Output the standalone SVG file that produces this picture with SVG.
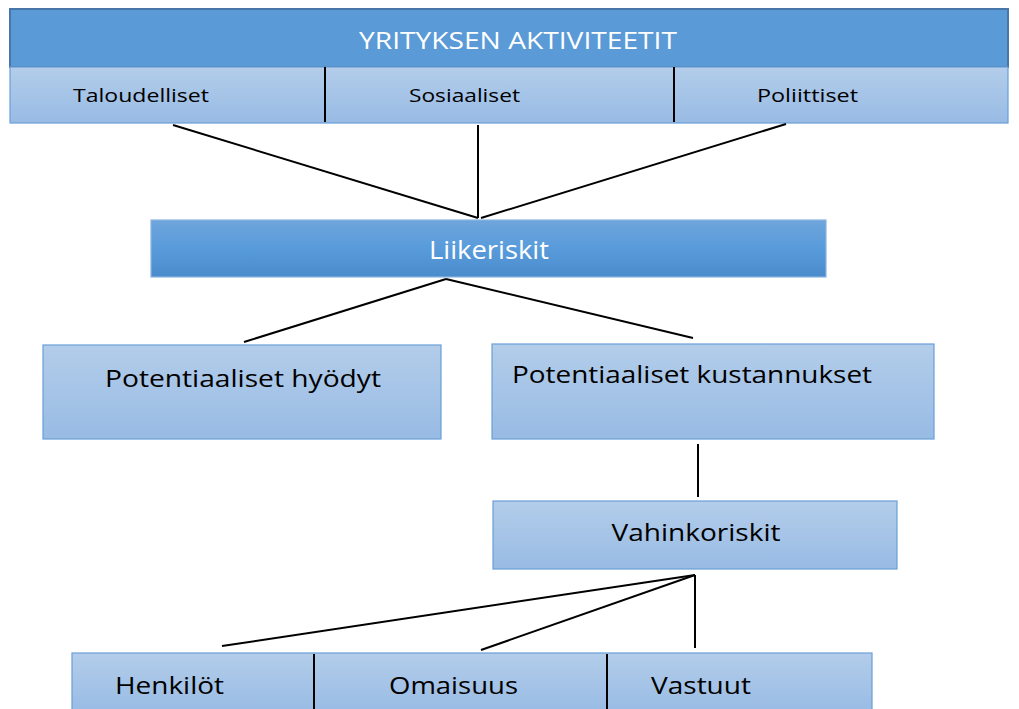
<svg xmlns="http://www.w3.org/2000/svg" width="1019" height="709" viewBox="0 0 1019 709">
<defs>
<linearGradient id="light" x1="0" y1="0" x2="0" y2="1">
<stop offset="0" stop-color="#b3cdea"/>
<stop offset="1" stop-color="#98bbe4"/>
</linearGradient>
<linearGradient id="dark" x1="0" y1="0" x2="0" y2="1">
<stop offset="0" stop-color="#6fa5db"/>
<stop offset="0.5" stop-color="#589bdb"/>
<stop offset="1" stop-color="#4a8bcb"/>
</linearGradient>
</defs>
<style>
.lb{fill:url(#light);stroke:#6a9fd8;stroke-width:1.2}
.db{fill:url(#dark);stroke:#8ab4e2;stroke-width:1.2}
.hd{fill:#5a9ad6;stroke:#4776a8;stroke-width:2}
.c{stroke:#000;stroke-width:2;fill:none}
.d{stroke:#000;stroke-width:2}
text{font-family:"Open Sans",Lato,sans-serif;font-variant-ligatures:none}
.t{fill:#000;font-size:24px}
.s{fill:#000;font-size:19px}
.w{fill:#fff}
</style>
<rect width="1019" height="709" fill="#fff"/>
<g id="top">
<rect class="hd" x="10" y="9" width="998" height="58"/>
<text class="w" x="518" y="49" font-size="23" text-anchor="middle" textLength="318" lengthAdjust="spacingAndGlyphs">YRITYKSEN AKTIVITEETIT</text>
<rect class="lb" x="10" y="67" width="998" height="56"/>
<line class="d" x1="325" y1="67" x2="325" y2="122"/>
<line class="d" x1="674" y1="67" x2="674" y2="122"/>
<text class="s" x="73" y="102" textLength="136" lengthAdjust="spacingAndGlyphs">Taloudelliset</text>
<text class="s" x="409" y="102" textLength="111" lengthAdjust="spacingAndGlyphs">Sosiaaliset</text>
<text class="s" x="757" y="102" textLength="101" lengthAdjust="spacingAndGlyphs">Poliittiset</text>
</g>
<g id="connectors">
<line class="c" x1="173" y1="125" x2="478" y2="218"/>
<line class="c" x1="478" y1="125" x2="478" y2="218"/>
<line class="c" x1="786" y1="124" x2="481" y2="218"/>
<line class="c" x1="446" y1="279" x2="244" y2="342"/>
<line class="c" x1="446" y1="279" x2="693" y2="338"/>
<line class="c" x1="698" y1="444" x2="698" y2="497"/>
<line class="c" x1="695" y1="575" x2="222" y2="646"/>
<line class="c" x1="695" y1="575" x2="481" y2="650"/>
<line class="c" x1="695" y1="575" x2="695" y2="648"/>
</g>
<g id="liikeriskit">
<rect class="db" x="151" y="220" width="675" height="57"/>
<text class="w" x="489" y="259" font-size="25" text-anchor="middle" textLength="120" lengthAdjust="spacingAndGlyphs">Liikeriskit</text>
</g>
<g id="hyodyt">
<rect class="lb" x="43" y="345" width="398" height="94"/>
<text class="t" x="105" y="387" textLength="276" lengthAdjust="spacingAndGlyphs">Potentiaaliset hyödyt</text>
</g>
<g id="kustannukset">
<rect class="lb" x="492" y="344" width="442" height="95"/>
<text class="t" x="512" y="383" textLength="360" lengthAdjust="spacingAndGlyphs">Potentiaaliset kustannukset</text>
</g>
<g id="vahinkoriskit">
<rect class="lb" x="493" y="501" width="404" height="68"/>
<text class="t" x="696" y="541" text-anchor="middle" textLength="169" lengthAdjust="spacingAndGlyphs">Vahinkoriskit</text>
</g>
<g id="bottom">
<rect class="lb" x="72" y="653" width="800" height="60"/>
<line class="d" x1="314" y1="654" x2="314" y2="709"/>
<line class="d" x1="607" y1="654" x2="607" y2="709"/>
<text class="t" x="115" y="694" textLength="109" lengthAdjust="spacingAndGlyphs">Henkilöt</text>
<text class="t" x="389" y="694" textLength="129" lengthAdjust="spacingAndGlyphs">Omaisuus</text>
<text class="t" x="651" y="694" textLength="100" lengthAdjust="spacingAndGlyphs">Vastuut</text>
</g>
</svg>
